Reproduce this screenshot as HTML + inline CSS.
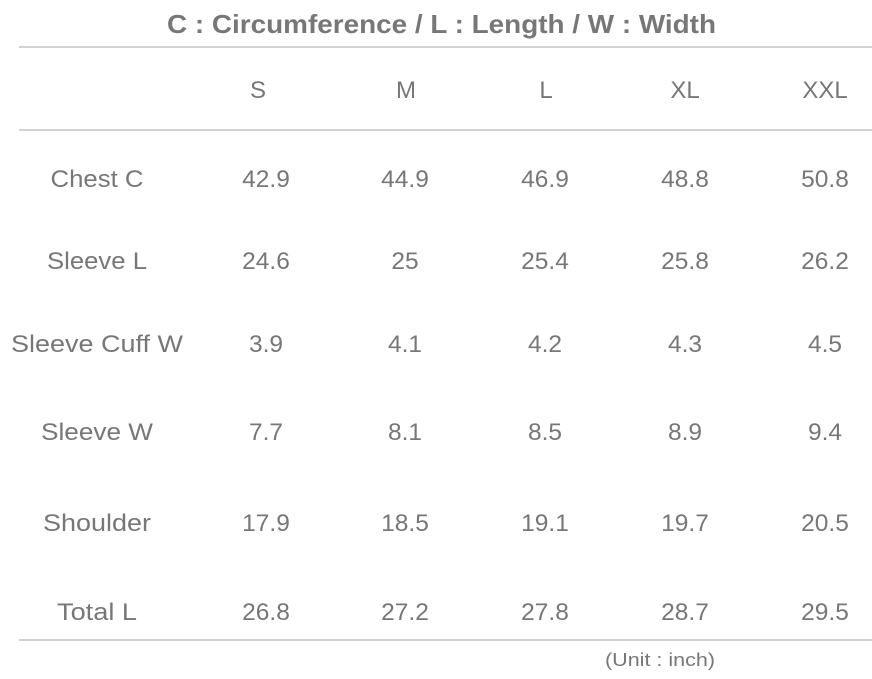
<!DOCTYPE html>
<html>
<head>
<meta charset="utf-8">
<style>
html,body{margin:0;padding:0;background:#fff;}
body{width:872px;height:679px;overflow:hidden;}
svg{display:block;}
text{font-family:"Liberation Sans","Noto Sans CJK KR",sans-serif;fill:#777777;}
</style>
</head>
<body>
<svg width="872" height="679" viewBox="0 0 872 679" xmlns="http://www.w3.org/2000/svg">
  <!-- title -->
  <text x="167" y="33" font-size="26" font-weight="bold" textLength="549" lengthAdjust="spacingAndGlyphs">C : Circumference / L : Length / W : Width</text>
  <!-- lines -->
  <rect x="19" y="46" width="853" height="2" fill="#d2d2d2"/>
  <rect x="19" y="129" width="853" height="2" fill="#d2d2d2"/>
  <rect x="19" y="639" width="853" height="2" fill="#d2d2d2"/>

  <g font-size="24" text-anchor="middle">
    <!-- header -->
    <text x="258" y="98">S</text>
    <text x="406" y="98">M</text>
    <text x="546" y="98">L</text>
    <text x="685" y="98">XL</text>
    <text x="825" y="98">XXL</text>

    <!-- row labels -->
    <text x="97" y="187" textLength="93" lengthAdjust="spacingAndGlyphs">Chest C</text>
    <text x="97" y="269" textLength="100" lengthAdjust="spacingAndGlyphs">Sleeve L</text>
    <text x="97" y="352" textLength="172" lengthAdjust="spacingAndGlyphs">Sleeve Cuff W</text>
    <text x="97" y="440" textLength="112" lengthAdjust="spacingAndGlyphs">Sleeve W</text>
    <text x="97" y="531" textLength="108" lengthAdjust="spacingAndGlyphs">Shoulder</text>
    <text x="97" y="620" textLength="80" lengthAdjust="spacingAndGlyphs">Total L</text>
  </g>

  <g font-size="24.5" text-anchor="middle">
    <text x="266" y="187">42.9</text>
    <text x="405" y="187">44.9</text>
    <text x="545" y="187">46.9</text>
    <text x="685" y="187">48.8</text>
    <text x="825" y="187">50.8</text>

    <text x="266" y="269">24.6</text>
    <text x="405" y="269">25</text>
    <text x="545" y="269">25.4</text>
    <text x="685" y="269">25.8</text>
    <text x="825" y="269">26.2</text>

    <text x="266" y="352">3.9</text>
    <text x="405" y="352">4.1</text>
    <text x="545" y="352">4.2</text>
    <text x="685" y="352">4.3</text>
    <text x="825" y="352">4.5</text>

    <text x="266" y="440">7.7</text>
    <text x="405" y="440">8.1</text>
    <text x="545" y="440">8.5</text>
    <text x="685" y="440">8.9</text>
    <text x="825" y="440">9.4</text>

    <text x="266" y="531">17.9</text>
    <text x="405" y="531">18.5</text>
    <text x="545" y="531">19.1</text>
    <text x="685" y="531">19.7</text>
    <text x="825" y="531">20.5</text>

    <text x="266" y="620">26.8</text>
    <text x="405" y="620">27.2</text>
    <text x="545" y="620">27.8</text>
    <text x="685" y="620">28.7</text>
    <text x="825" y="620">29.5</text>
  </g>

  <text x="660" y="666" font-size="18" text-anchor="middle" textLength="110" lengthAdjust="spacingAndGlyphs">(Unit : inch)</text>
</svg>
</body>
</html>
